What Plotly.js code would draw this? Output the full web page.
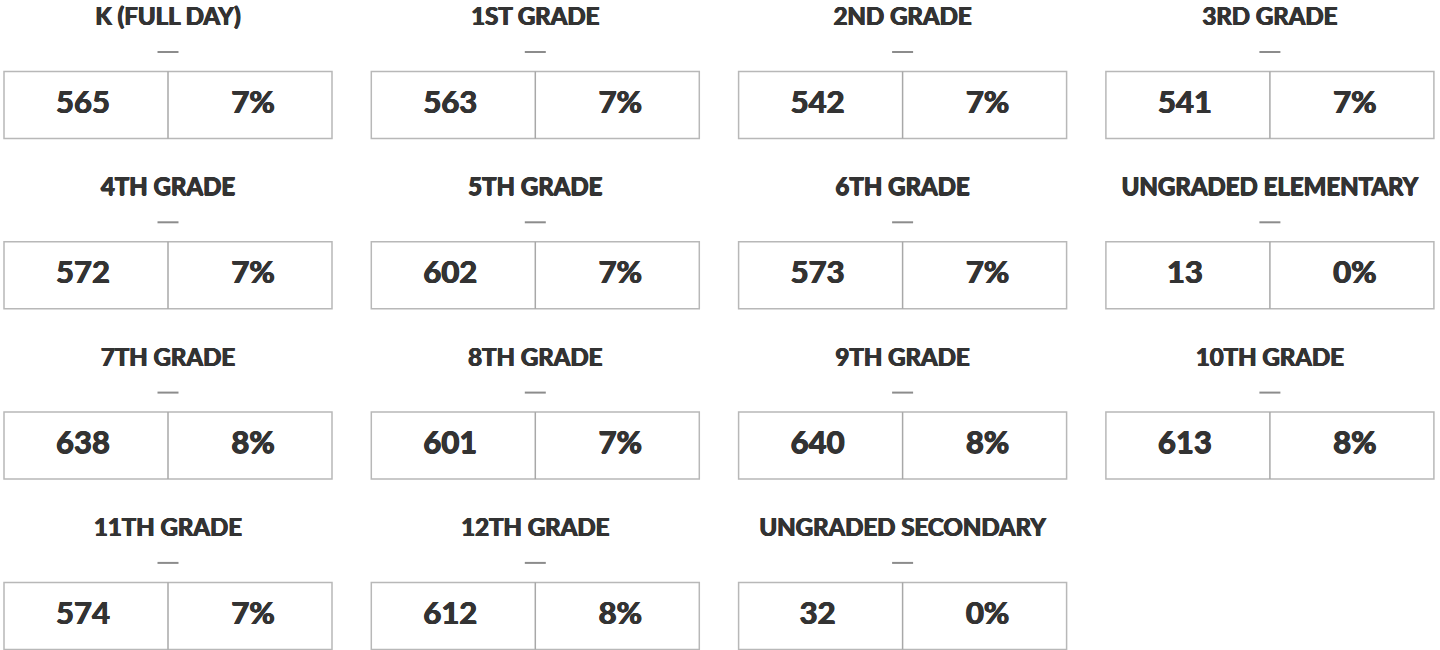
<!DOCTYPE html>
<html>
<head>
<meta charset="utf-8">
<script src="https://cdn.plot.ly/plotly-3.0.1.min.js"></script>
<style>html,body{margin:0;padding:0;background:#fff;}#chart{width:1440px;height:650px;}</style>
</head>
<body>
<div id="chart"></div>
<script>
// ---- data ----
const grades = ["K (FULL DAY)", "1ST GRADE", "2ND GRADE", "3RD GRADE",
  "4TH GRADE", "5TH GRADE", "6TH GRADE", "UNGRADED ELEMENTARY",
  "7TH GRADE", "8TH GRADE", "9TH GRADE", "10TH GRADE",
  "11TH GRADE", "12TH GRADE", "UNGRADED SECONDARY"];
const counts = [565, 563, 542, 541, 572, 602, 573, 13, 638, 601, 640, 613, 574, 612, 32];
const percents = [7, 7, 7, 7, 7, 7, 7, 0, 8, 7, 8, 8, 7, 8, 0];

// ---- layout constants (grid units: 1 column, 1 row) ----
const NCOL = 4;
const colPx = 367.3, rowPx = 170.3, x0Px = 168, y0Px = 105;
const boxHalfW = 164 / colPx, boxHalfH = 33.5 / rowPx;
const cellOff = 85 / colPx;
const titleOff = -86 / rowPx, dashOff = -53 / rowPx, dashHalf = 10.5 / colPx;

const col = grades.map((g, i) => i % NCOL);
const row = grades.map((g, i) => Math.floor(i / NCOL));

const ink = "#333333";
const fontFam = "Lato, 'Open Sans', sans-serif";
const heavy = "0.6px 0 0 #333333, -0.6px 0 0 #333333, 0 0.4px 0 #333333";

const traces = [
  {
    type: "scatter", mode: "text", hoverinfo: "skip", showlegend: false,
    x: col, y: row.map(r => r + titleOff), text: grades,
    textfont: {family: fontFam, size: 24, color: ink, weight: "bold", shadow: heavy}
  },
  {
    type: "scatter", mode: "text", hoverinfo: "skip", showlegend: false,
    x: col.map(c => c - cellOff), y: row, text: counts.map(String),
    textfont: {family: fontFam, size: 31, color: ink, weight: "bold", shadow: heavy}
  },
  {
    type: "scatter", mode: "text", hoverinfo: "skip", showlegend: false,
    x: col.map(c => c + cellOff), y: row, text: percents.map(p => p + "%"),
    textfont: {family: fontFam, size: 31, color: ink, weight: "bold", shadow: heavy}
  }
];

const shapes = [];
grades.forEach((g, i) => {
  const c = col[i], r = row[i];
  shapes.push({type: "rect", xref: "x", yref: "y",
    x0: c - boxHalfW, x1: c + boxHalfW, y0: r - boxHalfH, y1: r + boxHalfH,
    line: {color: "#b8b8b8", width: 1.5}, fillcolor: "rgba(0,0,0,0)"});
  shapes.push({type: "line", xref: "x", yref: "y",
    x0: c, x1: c, y0: r - boxHalfH, y1: r + boxHalfH,
    line: {color: "#a8a8a8", width: 1.5}});
  shapes.push({type: "line", xref: "x", yref: "y",
    x0: c - dashHalf, x1: c + dashHalf, y0: r + dashOff, y1: r + dashOff,
    line: {color: "#8c8c8c", width: 2}});
});

const layout = {
  width: 1440, height: 650,
  margin: {l: 0, r: 0, t: 0, b: 0},
  paper_bgcolor: "#ffffff", plot_bgcolor: "#ffffff",
  xaxis: {range: [-x0Px / colPx, (1440 - x0Px) / colPx], visible: false, fixedrange: true},
  yaxis: {range: [(650 - y0Px) / rowPx, -y0Px / rowPx], visible: false, fixedrange: true},
  shapes: shapes,
  showlegend: false
};

Plotly.newPlot("chart", traces, layout, {staticPlot: true, displayModeBar: false});
</script>
</body>
</html>
